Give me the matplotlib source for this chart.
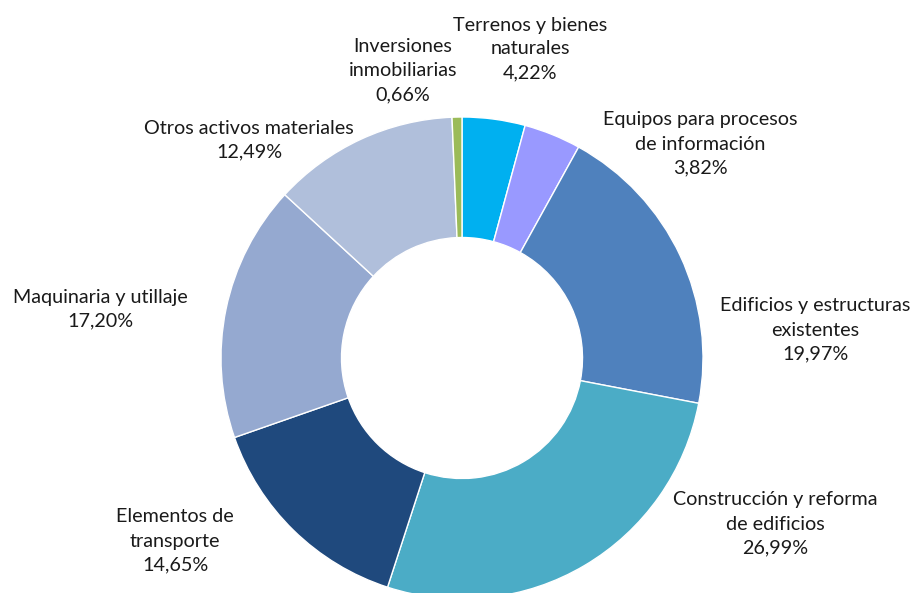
import matplotlib
matplotlib.use("Agg")
import matplotlib.pyplot as plt

# data, clockwise from 12 o'clock
categories = ["Terrenos y bienes\nnaturales",
              "Equipos para procesos\nde información",
              "Edificios y estructuras\nexistentes",
              "Construcción y reforma\nde edificios",
              "Elementos de\ntransporte",
              "Maquinaria y utillaje",
              "Otros activos materiales",
              "Inversiones\ninmobiliarias"]
shares = [4.22, 3.82, 19.97, 26.99, 14.65, 17.20, 12.49, 0.66]
colors = ["#00B0F0", "#9999FF", "#4F81BD", "#4BACC6",
          "#1F497D", "#95A9D0", "#B0BFDB", "#9BBB59"]

# label anchor points (pixels, top-left origin)
label_pos = [(530, 49), (700, 144), (815, 330), (775, 524),
             (175, 541), (100, 309), (249, 140), (403, 71)]

W, H = 915, 593
fig = plt.figure(figsize=(W / 100, H / 100), dpi=100)
ax = fig.add_axes([0, 0, 1, 1])

cx, cy, R = 462, H - 358, 241
ax.pie(shares, colors=colors, startangle=90, counterclock=False,
       center=(cx, cy), radius=R, frame=True,
       wedgeprops=dict(width=R * 0.5, edgecolor="white", linewidth=1))

for name, val, (px, py) in zip(categories, shares, label_pos):
    txt = name + "\n" + f"{val:.2f}".replace(".", ",") + "%"
    ax.text(px, H - py, txt, ha="center", va="center", fontsize=14.2,
            family=["Lato", "DejaVu Sans"],
            color="#1a1a1a", linespacing=1.5)

ax.set_xlim(0, W)
ax.set_ylim(0, H)
ax.set_aspect("equal")
ax.axis("off")

fig.savefig("out.png", dpi=100)
